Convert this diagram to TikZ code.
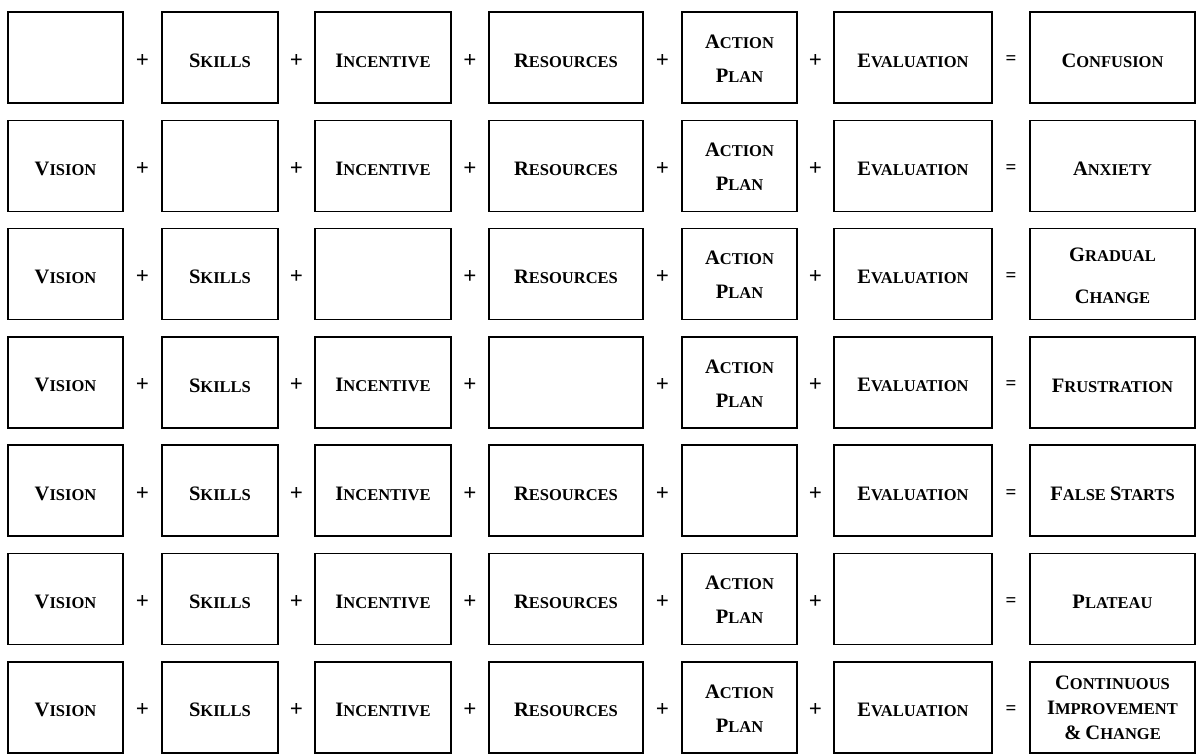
\documentclass[tikz,border=0pt]{standalone}
\usepackage{fontspec}
\setmainfont{Liberation Serif}
% bold small capitals built from two sizes of capitals
\newcommand\Sc[2]{{\fontsize{20.5}{34}\selectfont #1}{\fontsize{16.5}{34}\selectfont #2}}
\begin{document}
\begin{tikzpicture}[x=1pt,y=1pt,
  box/.style={draw,line width=1.6pt,minimum height=91pt,inner sep=0pt},
  word/.style={font=\bfseries\fontsize{16.5}{34}\selectfont,align=center,inner sep=0pt},
  word3/.style={font=\bfseries\fontsize{16.5}{25}\selectfont,align=center,inner sep=0pt},
  word2/.style={font=\bfseries\fontsize{16.5}{42}\selectfont,align=center,inner sep=0pt},
  op/.style={font=\bfseries\fontsize{23}{24}\selectfont,inner sep=0pt},
  eq/.style={font=\bfseries\fontsize{19}{20}\selectfont,inner sep=0pt}]
\useasboundingbox (0,0) rectangle (1197,-753);
% grid of boxes
\foreach \r in {1,...,7}{
  \pgfmathsetmacro\yc{-(12+108.3*(\r-1)+45.5)}
  \foreach \c/\x/\w in {1/65.5/115,2/220/116,3/383/136,4/566/154,5/739.5/115,6/913/158,7/1112.5/165}{
    \node[box,minimum width=\w pt] (b\r\c) at (\x,\yc) {};
  }
  \foreach \c/\x in {1/142.5,2/296.5,3/470,4/662.5,5/815.5}{
    \node[op] (p\r\c) at (\x,\yc-3) {+};
  }
  \node[eq] (e\r) at (1011,\yc-3) {=};
}
% box texts
\foreach \r/\c/\t in {
  1/2/{\Sc{S}{KILLS}},1/3/{\Sc{I}{NCENTIVE}},1/4/{\Sc{R}{ESOURCES}},1/6/{\Sc{E}{VALUATION}},1/7/{\Sc{C}{ONFUSION}},
  2/1/{\Sc{V}{ISION}},2/3/{\Sc{I}{NCENTIVE}},2/4/{\Sc{R}{ESOURCES}},2/6/{\Sc{E}{VALUATION}},2/7/{\Sc{A}{NXIETY}},
  3/1/{\Sc{V}{ISION}},3/2/{\Sc{S}{KILLS}},3/4/{\Sc{R}{ESOURCES}},3/6/{\Sc{E}{VALUATION}},
  4/1/{\Sc{V}{ISION}},4/2/{\Sc{S}{KILLS}},4/3/{\Sc{I}{NCENTIVE}},4/6/{\Sc{E}{VALUATION}},4/7/{\Sc{F}{RUSTRATION}},
  5/1/{\Sc{V}{ISION}},5/2/{\Sc{S}{KILLS}},5/3/{\Sc{I}{NCENTIVE}},5/4/{\Sc{R}{ESOURCES}},5/6/{\Sc{E}{VALUATION}},5/7/{\Sc{F}{ALSE} \Sc{S}{TARTS}},
  6/1/{\Sc{V}{ISION}},6/2/{\Sc{S}{KILLS}},6/3/{\Sc{I}{NCENTIVE}},6/4/{\Sc{R}{ESOURCES}},6/7/{\Sc{P}{LATEAU}},
  7/1/{\Sc{V}{ISION}},7/2/{\Sc{S}{KILLS}},7/3/{\Sc{I}{NCENTIVE}},7/4/{\Sc{R}{ESOURCES}},7/6/{\Sc{E}{VALUATION}}}{
  \node[word] (t\r\c) at ([yshift=-3pt]b\r\c.center) {\t};
}
% two-line "Action Plan" boxes
\foreach \r in {1,2,3,4,6,7}{
  \node[word] (t\r5) at ([yshift=-1pt]b\r5.center) {\Sc{A}{CTION}\\\Sc{P}{LAN}};
}
\node[word2] (t37) at ([yshift=-2pt]b37.center) {\Sc{G}{RADUAL}\\\Sc{C}{HANGE}};
\node[word3] (t77) at ([yshift=-1pt]b77.center) {\Sc{C}{ONTINUOUS}\\\Sc{I}{MPROVEMENT}\\\Sc{\&}{} \Sc{C}{HANGE}};
\end{tikzpicture}
\end{document}
